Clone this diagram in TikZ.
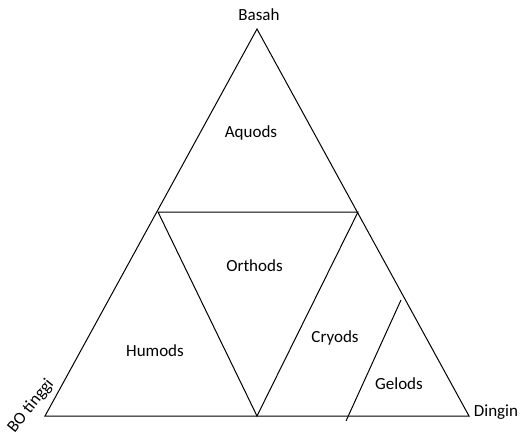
\documentclass[tikz,border=0pt]{standalone}
\usepackage{fontspec}
\setmainfont{Carlito}
\begin{document}
\begin{tikzpicture}[x=0.75pt,y=-0.75pt,
  edge/.style={draw=black,line width=0.75pt},
  lbl/.style={inner sep=0pt,anchor=base,font=\fontsize{12.75}{15}\selectfont}]
\useasboundingbox (0,0) rectangle (520,436);
\coordinate (A) at (257,29);
\coordinate (L) at (45,416);
\coordinate (R) at (469,416);
\coordinate (ML) at (158,212);
\coordinate (MR) at (358,212);
\coordinate (MB) at (257,416);
\coordinate (G1) at (401,300);
\coordinate (G2) at (346,421);
\draw[edge] (A) -- (L) -- (R) -- cycle;
\draw[edge] (ML) -- (MR) -- (MB) -- cycle;
\draw[edge] (G1) -- (G2);
\node[lbl] (basah) at (259,20) {Basah};
\node[lbl] (aquods) at (251,137) {Aquods};
\node[lbl] (orthods) at (254.5,271) {Orthods};
\node[lbl] (humods) at (155,356) {Humods};
\node[lbl] (cryods) at (335,342) {Cryods};
\node[lbl] (gelods) at (399,389) {Gelods};
\node[lbl] (dingin) at (496,416) {Dingin};
\node[inner sep=0pt,rotate=51,font=\fontsize{12.75}{15}\selectfont] (bo) at (31,406) {BO tinggi};
\end{tikzpicture}
\end{document}
